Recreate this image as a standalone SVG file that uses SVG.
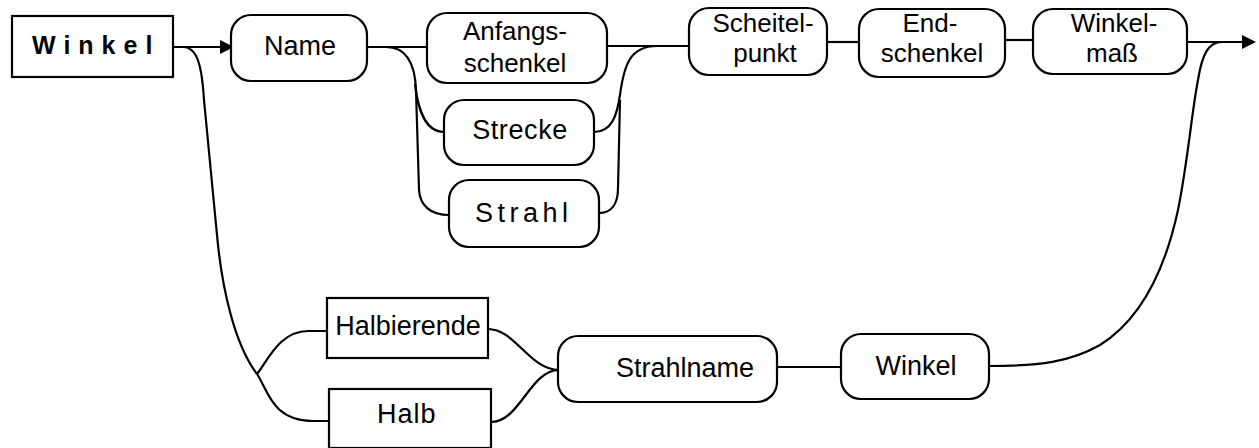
<svg xmlns="http://www.w3.org/2000/svg" width="1259" height="448" viewBox="0 0 1259 448">
  <style>
    .box { fill: #ffffff; stroke: #000000; stroke-width: 2.2; }
    .wire { fill: none; stroke: #000000; stroke-width: 2.2; }
    .lbl { font-family: "Liberation Sans", Arial, sans-serif; font-size: 27px; fill: #000000; }
    .two { font-size: 26px; }
    .mid { text-anchor: middle; }
    .title { font-weight: bold; font-size: 25px; letter-spacing: 8px; }
  </style>
  <defs>
    <marker id="arrow" viewBox="0 0 14 14" refX="0" refY="7" markerWidth="14" markerHeight="14" markerUnits="userSpaceOnUse" orient="auto">
      <path d="M0,0 L14,7 L0,14 z" fill="#000000"/>
    </marker>
  </defs>

  <rect width="1259" height="448" fill="#ffffff"/>

  <!-- connectors -->
  <g id="connectors">
    <!-- entry into Name -->
    <path class="wire" d="M173 47 L220 47" marker-end="url(#arrow)"/>
    <!-- alternative route down to the bisector branch -->
    <path class="wire" d="M183 47 C198 47 202 68 204 100 L217 235 C222 290 235 345 257 374"/>
    <path class="wire" d="M257 374 C268 360 280 331 308 331 L327 331"/>
    <path class="wire" d="M257 374 C268 390 272 421 313 421 L329 421"/>
    <!-- Name to the three first-leg choices -->
    <path class="wire" d="M367 47 L427 47"/>
    <path class="wire" d="M386 47 C405 47 415 62 416 90 L419 190 C420 205 430 215 449 215"/>
    <path class="wire" d="M415 84 C418 110 425 132 444 132"/>
    <!-- merge into Scheitelpunkt -->
    <path class="wire" d="M607 46 L689 46"/>
    <path class="wire" d="M594 132 C612 132 617 115 620 95 C624 65 630 46 657 46"/>
    <path class="wire" d="M599 213 C612 213 618 203 618 188 L620 100"/>
    <!-- main chain -->
    <path class="wire" d="M827 42 L859 42"/>
    <path class="wire" d="M1005 40 L1033 40"/>
    <path class="wire" d="M1187 42 L1242 42" marker-end="url(#arrow)"/>
    <!-- bisector chain -->
    <path class="wire" d="M488 329 C515 329 530 370 559 370"/>
    <path class="wire" d="M491 422 C520 422 530 370 559 370"/>
    <path class="wire" d="M777 367 L841 367"/>
    <path class="wire" d="M989 366 C1040 366 1070 362 1100 345 C1140 320 1165 270 1178 210 C1188 160 1192 110 1198 80 C1202 55 1208 42 1222 42"/>
  </g>

  <g id="winkel-title">
    <rect class="box" x="12" y="16" width="161" height="61"/>
    <text class="lbl title" x="32" y="54">Winkel</text>
  </g>

  <g id="name">
    <rect class="box" x="231" y="15" width="136" height="66" rx="20"/>
    <text class="lbl mid" x="300" y="55">Name</text>
  </g>

  <g id="anfangsschenkel">
    <rect class="box" x="427" y="13" width="180" height="70" rx="20"/>
    <text class="lbl two mid" x="515" y="40">Anfangs-</text>
    <text class="lbl two mid" x="515" y="72">schenkel</text>
  </g>

  <g id="strecke">
    <rect class="box" x="444" y="100" width="150" height="65" rx="20"/>
    <text class="lbl mid" x="520" y="139" style="letter-spacing:0.6px">Strecke</text>
  </g>

  <g id="strahl">
    <rect class="box" x="449" y="180" width="150" height="67" rx="20"/>
    <text class="lbl" x="475" y="222" style="letter-spacing:4.5px">Strahl</text>
  </g>

  <g id="scheitelpunkt">
    <rect class="box" x="689" y="8" width="138" height="67" rx="20"/>
    <text class="lbl two mid" x="763" y="32">Scheitel-</text>
    <text class="lbl two mid" x="765" y="62">punkt</text>
  </g>

  <g id="endschenkel">
    <rect class="box" x="859" y="9" width="146" height="68" rx="20"/>
    <text class="lbl two mid" x="930" y="32">End-</text>
    <text class="lbl two mid" x="932" y="62">schenkel</text>
  </g>

  <g id="winkelmass">
    <rect class="box" x="1033" y="9" width="154" height="65" rx="20"/>
    <text class="lbl two mid" x="1114" y="32">Winkel-</text>
    <text class="lbl two mid" x="1112" y="62">maß</text>
  </g>

  <g id="halbierende">
    <rect class="box" x="327" y="298" width="161" height="60"/>
    <text class="lbl mid" x="408" y="335">Halbierende</text>
  </g>

  <g id="halb">
    <rect class="box" x="329" y="389" width="162" height="59"/>
    <text class="lbl" x="377" y="423" style="letter-spacing:1px">Halb</text>
  </g>

  <g id="strahlname">
    <rect class="box" x="558" y="336" width="219" height="66" rx="20"/>
    <text class="lbl" x="616" y="377">Strahlname</text>
  </g>

  <g id="winkel">
    <rect class="box" x="841" y="334" width="148" height="65" rx="20"/>
    <text class="lbl mid" x="916" y="375">Winkel</text>
  </g>
</svg>
